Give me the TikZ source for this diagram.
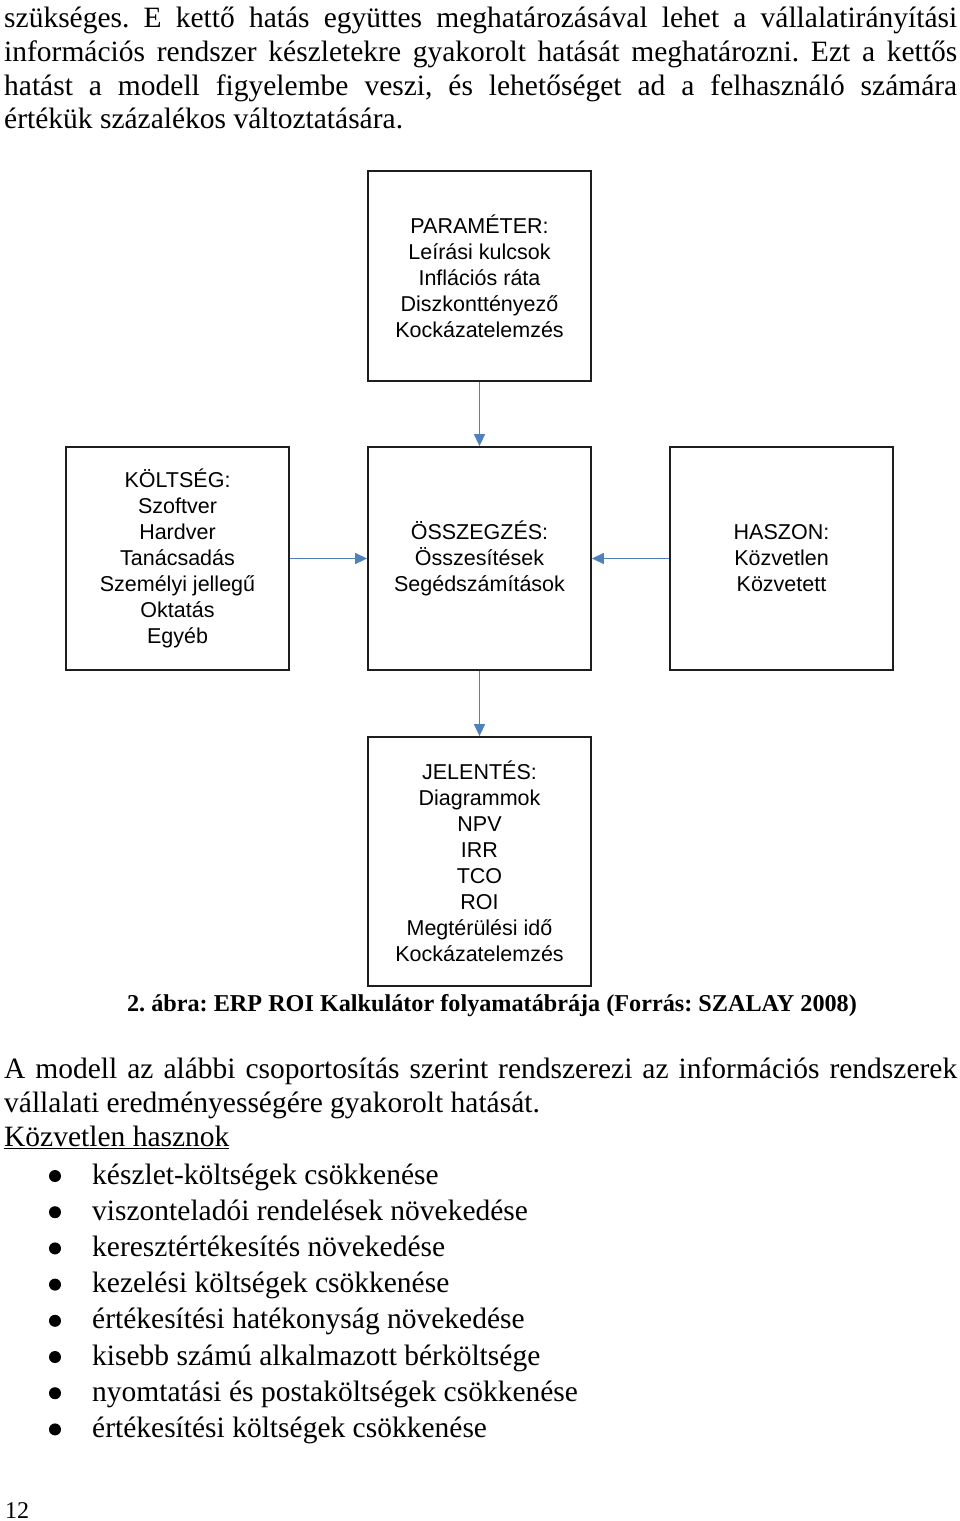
\documentclass[tikz,border=0pt]{standalone}
\usepackage{fontspec}
\setmainfont{Liberation Serif}
\newfontfamily\arialf{Liberation Sans}
\usetikzlibrary{arrows.meta}
\frenchspacing
\definecolor{arrowblue}{RGB}{79,129,189}
\definecolor{boxline}{RGB}{30,30,30}
\tikzset{
  box/.style={draw=boxline, line width=1.8pt, inner sep=0pt, align=center,
    font=\arialf\fontsize{21.5}{26}\selectfont, minimum width=223pt},
  arr/.style={draw=arrowblue, line width=1.5pt, -{Triangle[length=12pt,width=11pt]}},
  body/.style={anchor=base west, inner sep=0pt, font=\fontsize{29.5}{34}\selectfont},
  captiontext/.style={anchor=base, inner sep=0pt, font=\bfseries\fontsize{24.2}{28}\selectfont},
}
\begin{document}
\begin{tikzpicture}[x=1pt,y=-1pt]
\useasboundingbox[fill=white] (0,0) rectangle (960,1521);
% top paragraph
\node[body] (p1) at (4,27) {\makebox[953pt][s]{szükséges. E kettő hatás együttes meghatározásával lehet a vállalatirányítási}};
\node[body] (p2) at (4,61) {\makebox[953pt][s]{információs rendszer készletekre gyakorolt hatását meghatározni. Ezt a kettős}};
\node[body] (p3) at (4,95) {\makebox[953pt][s]{hatást a modell figyelembe veszi, és lehetőséget ad a felhasználó számára}};
\node[body] (p4) at (4,128) {értékük százalékos változtatására.};
% diagram
\node[box, minimum height=210pt] (param) at (479.5,276) {PARAMÉTER:\\Leírási kulcsok\\Inflációs ráta\\Diszkonttényező\\Kockázatelemzés};
\node[box, minimum height=223pt] (cost) at (177.5,558.5) {KÖLTSÉG:\\Szoftver\\Hardver\\Tanácsadás\\Személyi jellegű\\Oktatás\\Egyéb};
\node[box, minimum height=223pt] (sum) at (479.5,558.5) {ÖSSZEGZÉS:\\Összesítések\\Segédszámítások};
\node[box, minimum height=223pt] (benefit) at (781.5,558.5) {HASZON:\\Közvetlen\\Közvetett};
\node[box, minimum height=249pt] (report) at (479.5,861.5) {JELENTÉS:\\Diagrammok\\NPV\\IRR\\TCO\\ROI\\Megtérülési idő\\Kockázatelemzés};
\draw[arr] (param.south) -- (sum.north);
\draw[arr] (cost.east) -- (sum.west);
\draw[arr] (benefit.west) -- (sum.east);
\draw[arr] (sum.south) -- (report.north);
% caption
\node[captiontext] (caption) at (492,1011) {2. ábra: ERP ROI Kalkulátor folyamatábrája (Forrás: SZALAY 2008)};
% second paragraph
\node[body] (q1) at (4,1078) {\makebox[953pt][s]{A modell az alábbi csoportosítás szerint rendszerezi az információs rendszerek}};
\node[body] (q2) at (4,1112) {vállalati eredményességére gyakorolt hatását.};
\node[body] (q3) at (4,1146) {\underline{Közvetlen hasznok}};
% bullets
\foreach \t [count=\i from 0] in {készlet-költségek csökkenése, viszonteladói rendelések növekedése, keresztértékesítés növekedése, kezelési költségek csökkenése, értékesítési hatékonyság növekedése, kisebb számú alkalmazott bérköltsége, nyomtatási és postaköltségek csökkenése, értékesítési költségek csökkenése}{
  \pgfmathsetmacro{\yy}{1184+36.2*\i}
  \fill (55,\yy-8) circle (6pt);
  \node[body] (b\i) at (92,\yy) {\t};
}
% page number
\node[anchor=base west, inner sep=0pt, font=\fontsize{24}{28}\selectfont] (pagenum) at (5,1518) {12};
\end{tikzpicture}
\end{document}
